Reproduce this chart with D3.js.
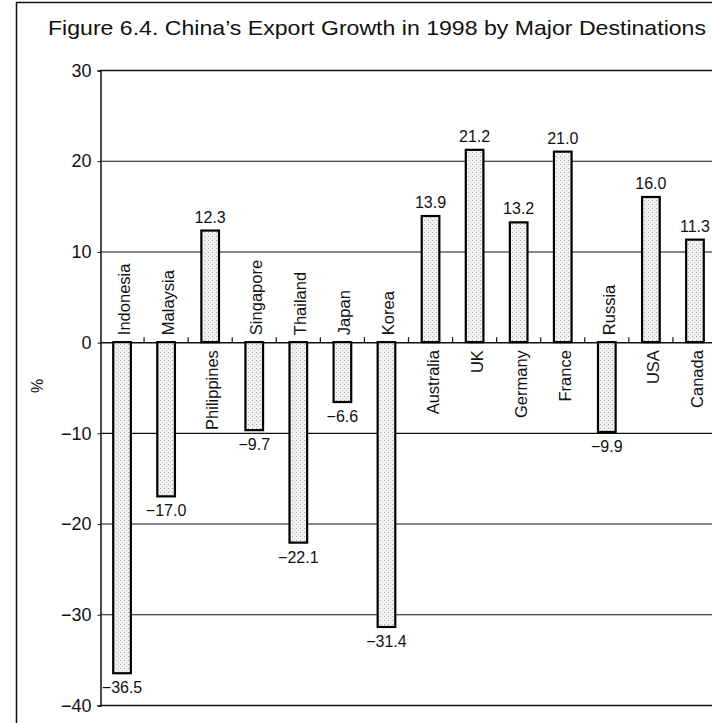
<!DOCTYPE html>
<html lang="en">
<head>
    <meta charset="UTF-8">
    <title>China's Export Growth 1998</title>
    <script src="https://d3js.org/d3.v7.min.js"></script>
    <style>
        body {
            margin: 0;
            background: #fff;
            font-family: "Liberation Sans", Arial, sans-serif;
        }
        svg {
            display: block;
        }
    </style>
</head>
<body>
    <div id="container"></div>

    <script>
        // data
        const countries = ['Indonesia', 'Malaysia', 'Philippines', 'Singapore', 'Thailand', 'Japan', 'Korea',
            'Australia', 'UK', 'Germany', 'France', 'Russia', 'USA', 'Canada'];
        const growth = [-36.5, -17.0, 12.3, -9.7, -22.1, -6.6, -31.4, 13.9, 21.2, 13.2, 21.0, -9.9, 16.0, 11.3];
        const yTicks = [-40, -30, -20, -10, 0, 10, 20, 30];
        const data = countries.map((c, i) => ({ country: c, value: growth[i] }));

        const width = 712;
        const height = 723;

        const svg = d3.select('#container').append('svg')
            .attr('width', width)
            .attr('height', height);

        // stipple fill for bars
        const defs = svg.append('defs');
        const pat = defs.append('pattern')
            .attr('id', 'stipple')
            .attr('patternUnits', 'userSpaceOnUse')
            .attr('width', 4)
            .attr('height', 4);
        pat.append('rect').attr('width', 4).attr('height', 4).attr('fill', '#f2f2f2');
        pat.append('rect').attr('x', 0).attr('y', 0).attr('width', 1).attr('height', 1).attr('fill', '#a5a5a5');
        pat.append('rect').attr('x', 2).attr('y', 2).attr('width', 1).attr('height', 1).attr('fill', '#c4c4c4');

        // outer frame (left and top only, rest is cropped)
        svg.append('line')
            .attr('x1', 16.5).attr('x2', 16.5)
            .attr('y1', 2).attr('y2', height)
            .attr('stroke', '#111').attr('stroke-width', 1.5);
        svg.append('line')
            .attr('x1', 16).attr('x2', width)
            .attr('y1', 2.5).attr('y2', 2.5)
            .attr('stroke', '#111').attr('stroke-width', 1.5);

        // title
        svg.append('text')
            .attr('x', 48)
            .attr('y', 35)
            .attr('font-size', 21)
            .attr('textLength', 658)
            .attr('lengthAdjust', 'spacingAndGlyphs')
            .attr('fill', '#111')
            .text("Figure 6.4.  China\u2019s Export Growth in 1998 by Major Destinations");

        // scales
        const x = d3.scaleBand()
            .domain(countries)
            .range([100, 717])
            .paddingInner(0.6)
            .paddingOuter(0.3);

        const y = d3.scaleLinear()
            .domain([-40, 30])
            .range([705, 70]);

        // gridlines
        svg.selectAll('.grid')
            .data(yTicks)
            .enter()
            .append('line')
            .attr('class', 'grid')
            .attr('x1', 100)
            .attr('x2', width)
            .attr('y1', d => y(d) + 0.5)
            .attr('y2', d => y(d) + 0.5)
            .attr('stroke', '#111')
            .attr('stroke-width', d => (d === 30 || d === -40 || d === 0) ? 1.5 : 1.1);

        // y axis
        const yAxis = d3.axisLeft(y)
            .tickValues(yTicks)
            .tickSize(3)
            .tickPadding(6)
            .tickFormat(d => d < 0 ? '\u2212' + Math.abs(d) : d);

        const gy = svg.append('g')
            .attr('transform', 'translate(100.5,0.5)')
            .call(yAxis);
        gy.select('.domain').attr('stroke', '#111').attr('stroke-width', 1.5);
        gy.selectAll('.tick line').attr('stroke', '#111');
        gy.selectAll('.tick text')
            .attr('font-size', 18)
            .attr('font-family', '"Liberation Sans", Arial, sans-serif')
            .attr('fill', '#111');

        // % label
        svg.append('text')
            .attr('transform', 'translate(43,386) rotate(-90)')
            .attr('text-anchor', 'middle')
            .attr('font-size', 16)
            .attr('fill', '#111')
            .text('%');

        // category separator ticks on the zero line
        const step = x.step();
        const sepX = d3.range(1, countries.length).map(i => x(countries[0]) - step * 0.3 + i * step);
        svg.selectAll('.sep')
            .data(sepX)
            .enter()
            .append('line')
            .attr('x1', d => d)
            .attr('x2', d => d)
            .attr('y1', y(0) - 5)
            .attr('y2', y(0))
            .attr('stroke', '#111')
            .attr('stroke-width', 1.2);

        // bars
        svg.selectAll('.bar')
            .data(data)
            .enter()
            .append('rect')
            .attr('class', 'bar')
            .attr('x', d => x(d.country))
            .attr('width', x.bandwidth())
            .attr('y', d => y(Math.max(0, d.value)))
            .attr('height', d => Math.abs(y(d.value) - y(0)))
            .attr('fill', 'url(#stipple)')
            .attr('stroke', '#000')
            .attr('stroke-width', 2.2);

        // value labels
        svg.selectAll('.val')
            .data(data)
            .enter()
            .append('text')
            .attr('class', 'val')
            .attr('x', d => x(d.country) + x.bandwidth() / 2)
            .attr('y', d => d.value >= 0 ? y(d.value) - 8 : y(d.value) + 20)
            .attr('text-anchor', 'middle')
            .attr('font-size', 16)
            .attr('fill', '#111')
            .text(d => (d.value < 0 ? '\u2212' : '') + Math.abs(d.value).toFixed(1));

        // country labels, on the other side of the zero line
        svg.selectAll('.name')
            .data(data)
            .enter()
            .append('text')
            .attr('class', 'name')
            .attr('transform', function(d) {
                const cx = x(d.country) + x.bandwidth() / 2 + 8;
                const cy = d.value < 0 ? y(0) - 7 : y(0) + 8;
                return 'translate(' + cx + ',' + cy + ') rotate(-90)';
            })
            .attr('text-anchor', d => d.value < 0 ? 'start' : 'end')
            .attr('font-size', 16.5)
            .attr('fill', '#111')
            .text(d => d.country);
    </script>
</body>
</html>
